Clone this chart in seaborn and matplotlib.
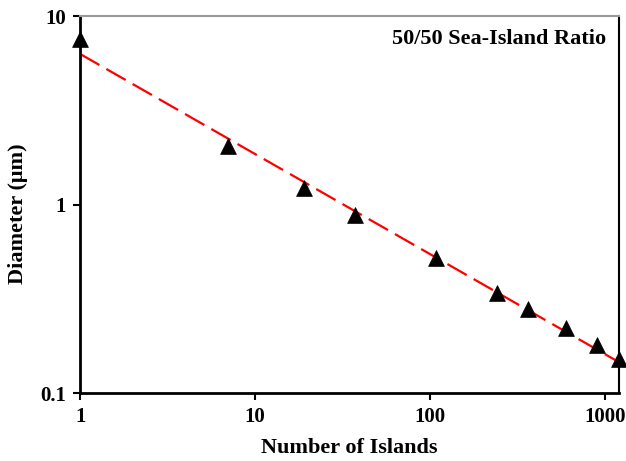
import numpy as np
import pandas as pd
import seaborn as sns
import matplotlib.pyplot as plt
from matplotlib.ticker import FixedLocator, FixedFormatter, NullLocator

# measured points
islands = [1, 7, 19, 37, 108, 240, 360, 600, 900, 1200]
diameter = [7.6, 2.05, 1.23, 0.88, 0.52, 0.34, 0.28, 0.223, 0.18, 0.152]

# power-law fit, end points
fit_islands = [1, 1200]
fit_diameter = [6.3, 0.146]

x_ticks = [1, 10, 100, 1000]
y_ticks = [0.1, 1, 10]

sns.set_style("white")
plt.rcParams['font.family'] = ['Liberation Serif', 'DejaVu Serif']
plt.rcParams['font.weight'] = 'bold'
plt.rcParams['text.color'] = 'black'
plt.rcParams['axes.labelcolor'] = 'black'
plt.rcParams['xtick.color'] = 'black'
plt.rcParams['ytick.color'] = 'black'

df = pd.DataFrame({'Number of Islands': islands, 'Diameter': diameter})
fit = pd.DataFrame({'Number of Islands': fit_islands, 'Diameter': fit_diameter})

fig, ax = plt.subplots(figsize=(6.26, 4.61), dpi=100)
fig.subplots_adjust(left=0.128, right=0.989, top=0.965, bottom=0.147)

sns.lineplot(data=fit, x='Number of Islands', y='Diameter', ax=ax,
             color='#ff0000', linewidth=1.6, dashes=False, zorder=2)
ax.lines[-1].set_dashes([10, 3.6])
sns.scatterplot(data=df, x='Number of Islands', y='Diameter', ax=ax,
                marker='^', s=130, color='black', edgecolor='black',
                linewidth=0.5, zorder=3, clip_on=False)

ax.set_xscale('log')
ax.set_yscale('log')
ax.set_xlim(1, 1200)
ax.set_ylim(0.1, 10)

ax.xaxis.set_major_locator(FixedLocator(x_ticks))
ax.xaxis.set_major_formatter(FixedFormatter([str(t) for t in x_ticks]))
ax.yaxis.set_major_locator(FixedLocator(y_ticks))
ax.yaxis.set_major_formatter(FixedFormatter(['0.1', '1', '10']))
ax.xaxis.set_minor_locator(NullLocator())
ax.yaxis.set_minor_locator(NullLocator())

ax.tick_params(axis='both', which='major', direction='out', length=5,
               width=1.5, color='black', labelcolor='black', labelsize=15,
               pad=5, bottom=True, left=True)
for lab in ax.get_xticklabels() + ax.get_yticklabels():
    lab.set_fontweight('bold')

ax.spines['left'].set_linewidth(2)
ax.spines['bottom'].set_linewidth(2)
ax.spines['left'].set_color('black')
ax.spines['bottom'].set_color('black')
ax.spines['right'].set_linewidth(1.5)
ax.spines['right'].set_color('black')
ax.spines['top'].set_linewidth(1.5)
ax.spines['top'].set_color('#999999')

ax.set_xlabel('Number of Islands', fontsize=16, fontweight='bold',
              color='black', labelpad=8)
ax.set_ylabel('Diameter (\u03bcm)', fontsize=16, fontweight='bold',
              color='black')
ax.yaxis.set_label_coords(-0.097, 0.477)

ax.text(0.975, 0.94, '50/50 Sea-Island Ratio', transform=ax.transAxes,
        ha='right', va='center', fontsize=16, fontweight='bold', color='black')

plt.savefig('out.png', dpi=100)
